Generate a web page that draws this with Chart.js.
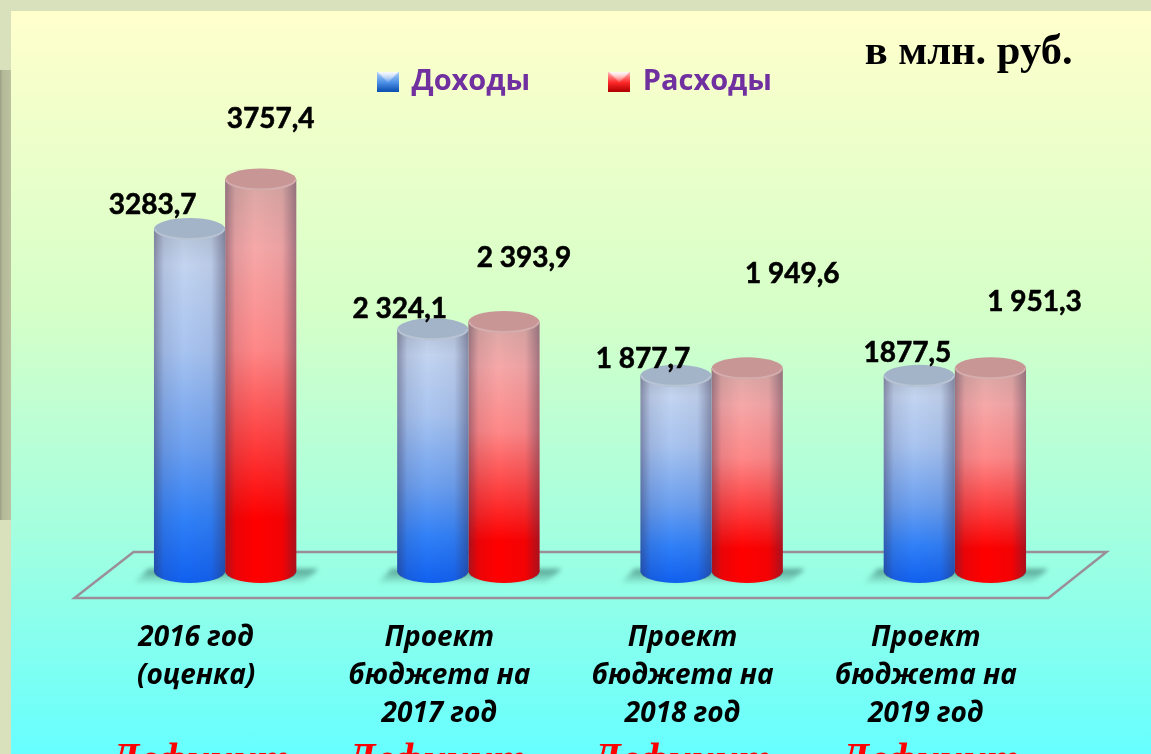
<!DOCTYPE html>
<html lang="ru">
<head>
<meta charset="utf-8">
<title>Доходы и расходы</title>
<script src="https://cdn.jsdelivr.net/npm/chart.js@4/dist/chart.umd.min.js"></script>
<style>
  html, body { margin: 0; padding: 0; width: 1151px; height: 754px; overflow: hidden; background: #d8e0bc; }
  #strip { position: absolute; left: 0; top: 70px; width: 11px; height: 450px; background: linear-gradient(90deg, #9a9f86 0, #b4ba98 25%, #bcc29f 100%); }
  #panel { position: absolute; left: 11px; top: 11px; right: 0; bottom: 0;
    background: linear-gradient(180deg, #ffffcc 0%, #d6ffc8 40%, #a4ffdf 70%, #66ffff 100%); }
  #chart { position: absolute; left: 0; top: 0; }
</style>
</head>
<body>
<div id="strip"></div>
<div id="panel"></div>
<canvas id="chart" width="1151" height="754"></canvas>
<script>
// данные
const categorias = [
  ['2016 год', '(оценка)'],
  ['Проект', 'бюджета на', '2017 год'],
  ['Проект', 'бюджета на', '2018 год'],
  ['Проект', 'бюджета на', '2019 год']
];
const dohody = [3283.7, 2324.1, 1877.7, 1877.5];
const rashody = [3757.4, 2393.9, 1949.6, 1951.3];
const textoDohody = ['3283,7', '2 324,1', '1 877,7', '1877,5'];
const textoRashody = ['3757,4', '2 393,9', '1 949,6', '1 951,3'];
const deficit = ['Дефицит', 'Дефицит', 'Дефицит', 'Дефицит'];

const rampaAzul = [[0, '#b4c2d6'], [0.1, '#c2d4f0'], [0.34, '#a8c4f0'], [0.62, '#6ca0f0'], [0.82, '#3080f8'], [1, '#1060f0']];
const rampaRojo = [[0, '#d8a8a4'], [0.17, '#f6a8a8'], [0.42, '#ff8888'], [0.67, '#ff3838'], [0.84, '#ff0000'], [1, '#ff0000']];

// corrimiento de las etiquetas respecto a la tapa de cada barra
const despAzul = [[-37, -24], [-33, -20], [-33, -17], [-12, -23]];
const despRojo = [[10, -60], [20, -64], [45, -94], [44, -66]];
const despDeficit = [-25, -32, -30, -25];

// icono de la leyenda
function icono(color1, color2, color3) {
  const c = document.createElement('canvas');
  c.width = 22; c.height = 20;
  const g = c.getContext('2d');
  const lin = g.createLinearGradient(0, 0, 0, 20);
  lin.addColorStop(0, color1);
  lin.addColorStop(0.55, color2);
  lin.addColorStop(1, color3);
  g.fillStyle = lin;
  g.fillRect(0, 0, 22, 20);
  const luz = g.createLinearGradient(0, 0, 0, 11);
  luz.addColorStop(0, 'rgba(255,255,255,.95)');
  luz.addColorStop(1, 'rgba(255,255,255,.1)');
  g.fillStyle = luz;
  g.beginPath();
  g.moveTo(0, 0); g.lineTo(22, 0); g.lineTo(11, 11);
  g.fill();
  return c;
}

function rampa(ctx, top, bottom, stops) {
  const g = ctx.createLinearGradient(0, top, 0, bottom);
  stops.forEach(s => g.addColorStop(s[0], s[1]));
  return g;
}

const radioTapa = 11;

function relleno(rampaColor) {
  return (c) => {
    const y = c.chart.scales.y;
    if (!y || !c.parsed) return rampaColor[2][1];
    const top = y.getPixelForValue(c.parsed.y);
    if (!Number.isFinite(top) || !Number.isFinite(y.bottom)) return rampaColor[2][1];
    return rampa(c.chart.ctx, top, y.bottom + radioTapa, rampaColor);
  };
}

const fondoPlugin = {
  id: 'fondo',
  beforeDatasetsDraw(chart) {
    const ctx = chart.ctx, a = chart.chartArea;
    // piso
    const yAtras = a.bottom - 20, yFrente = a.bottom + 26;
    ctx.save();
    ctx.strokeStyle = '#9a8f98';
    ctx.lineWidth = 2.5;
    ctx.beginPath();
    ctx.moveTo(a.left + 30, yAtras);
    ctx.lineTo(a.right + 30, yAtras);
    ctx.lineTo(a.right - 28, yFrente);
    ctx.lineTo(a.left - 29, yFrente);
    ctx.closePath();
    ctx.stroke();
    // sombras
    ctx.filter = 'blur(2.5px)';
    chart.getDatasetMeta(0).data.forEach((bar, i) => {
      const rojo = chart.getDatasetMeta(1).data[i];
      const x0 = bar.x - bar.width / 2 - 20, x1 = rojo.x + rojo.width / 2 + 22;
      const g = ctx.createLinearGradient(0, a.bottom - 4, 0, a.bottom + 11);
      g.addColorStop(0, 'rgba(50,110,100,.8)');
      g.addColorStop(1, 'rgba(90,170,150,.15)');
      ctx.fillStyle = g;
      ctx.beginPath();
      ctx.moveTo(x0 + 14, a.bottom - 3);
      ctx.lineTo(x1, a.bottom - 3);
      ctx.lineTo(x1 - 16, a.bottom + 11);
      ctx.lineTo(x0, a.bottom + 11);
      ctx.closePath();
      ctx.fill();
    });
    ctx.restore();
  },
  afterDatasetDraw(chart, args) {
    const ctx = chart.ctx;
    const meta = chart.getDatasetMeta(args.index);
    const azul = args.index === 0;
    meta.data.forEach((bar) => {
      const w = bar.width, l = bar.x - w / 2, r = bar.x + w / 2, base = bar.base;
      ctx.save();
      // fondo redondo
      ctx.fillStyle = bar.options.backgroundColor;
      ctx.beginPath();
      ctx.ellipse(bar.x, base - 1, w / 2, radioTapa + 1, 0, 0, Math.PI);
      ctx.fill();
      // sombra lateral del cilindro
      const h = ctx.createLinearGradient(l, 0, r, 0);
      h.addColorStop(0, 'rgba(50,40,70,.42)');
      h.addColorStop(0.14, 'rgba(50,40,70,.1)');
      h.addColorStop(0.42, 'rgba(50,40,70,0)');
      h.addColorStop(0.8, 'rgba(50,40,70,.06)');
      h.addColorStop(1, 'rgba(50,40,70,.42)');
      ctx.fillStyle = h;
      ctx.beginPath();
      ctx.moveTo(l, bar.y);
      ctx.lineTo(r, bar.y);
      ctx.lineTo(r, base);
      ctx.ellipse(bar.x, base, w / 2, radioTapa, 0, 0, Math.PI);
      ctx.closePath();
      ctx.fill();
      // tapa
      ctx.fillStyle = azul ? '#a4b4c8' : '#c99696';
      ctx.beginPath();
      ctx.ellipse(bar.x, bar.y, w / 2, radioTapa, 0, 0, Math.PI * 2);
      ctx.fill();
      ctx.strokeStyle = 'rgba(255,255,255,.22)';
      ctx.lineWidth = 2;
      ctx.beginPath();
      ctx.ellipse(bar.x, bar.y, w / 2 - 1, radioTapa - 1, 0, 0, Math.PI);
      ctx.stroke();
      ctx.restore();
    });
  },
  afterDraw(chart) {
    const ctx = chart.ctx, x = chart.scales.x, y = chart.scales.y;
    ctx.save();
    ctx.textAlign = 'center';
    ctx.textBaseline = 'middle';
    ctx.fillStyle = '#000';
    ctx.strokeStyle = '#000';
    ctx.lineWidth = 0.6;
    ctx.font = 'bold 28px Lato, "Open Sans", sans-serif';
    [[0, textoDohody, despAzul], [1, textoRashody, despRojo]].forEach(([d, textos, desp]) => {
      chart.getDatasetMeta(d).data.forEach((bar, i) => {
        ctx.fillText(textos[i], bar.x + desp[i][0], bar.y + desp[i][1]);
        ctx.strokeText(textos[i], bar.x + desp[i][0], bar.y + desp[i][1]);
      });
    });
    // unidades
    ctx.textAlign = 'right';
    ctx.font = 'bold 42.5px "Liberation Serif", serif';
    ctx.fillText('в млн. руб.', x.right - 4, y.top - 53);
    // deficit, cortado por el borde inferior
    ctx.textAlign = 'center';
    ctx.textBaseline = 'alphabetic';
    ctx.fillStyle = '#ff0000';
    ctx.font = 'italic bold 42px "Liberation Serif", serif';
    deficit.forEach((t, i) => {
      ctx.fillText(t, x.getPixelForValue(i) + despDeficit[i], 772);
    });
    ctx.restore();
  }
};

new Chart(document.getElementById('chart'), {
  type: 'bar',
  data: {
    labels: categorias,
    datasets: [
      { label: 'Доходы', data: dohody, backgroundColor: relleno(rampaAzul), pointStyle: icono('#b8d4f8', '#4c90e8', '#0c50b0') },
      { label: 'Расходы', data: rashody, backgroundColor: relleno(rampaRojo), pointStyle: icono('#ffc0c0', '#ff2828', '#b00000') }
    ]
  },
  options: {
    responsive: false,
    animation: false,
    categoryPercentage: 0.585,
    barPercentage: 1,
    layout: { padding: { top: -13, left: 74.5, right: 74.5, bottom: -26 } },
    scales: {
      x: {
        grid: { display: false, drawTicks: false },
        border: { display: false },
        ticks: { color: '#000', maxRotation: 0, autoSkip: false, padding: 47, labelOffset: -29,
          font: { family: '"Open Sans", sans-serif', size: 28, style: 'italic', weight: 'bold', lineHeight: 1.357 } }
      },
      y: {
        min: 0, max: 4460,
        grid: { display: false },
        border: { display: false },
        ticks: { display: false },
        afterFit(s) { s.width = 29; }
      }
    },
    plugins: {
      tooltip: { enabled: false },
      legend: {
        position: 'top',
        labels: { usePointStyle: true, boxWidth: 18, boxHeight: 20, padding: 80, color: '#7030a0',
          font: { family: '"Open Sans", sans-serif', size: 29, weight: 'bold' } }
      }
    }
  },
  plugins: [fondoPlugin]
});
</script>
</body>
</html>
